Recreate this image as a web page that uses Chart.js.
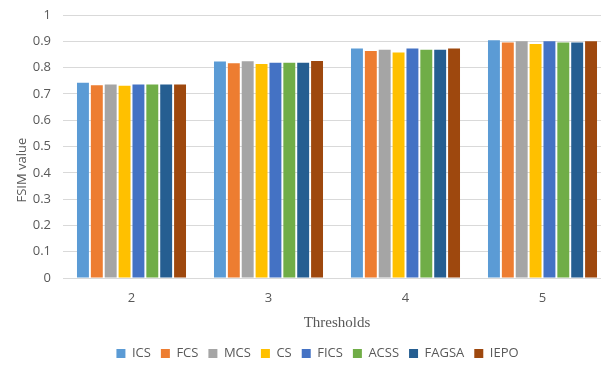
<!DOCTYPE html>
<html><head><meta charset="utf-8">
<script src="https://cdn.jsdelivr.net/npm/chart.js@4.4.1/dist/chart.umd.min.js"></script>
<style>
html,body{margin:0;padding:0;background:#fff;overflow:hidden;width:601px;height:368px;}
#wrap{width:634px;height:390px;}
</style></head>
<body><div id="wrap"><canvas id="c" width="634" height="390"></canvas></div>
<script>
const categories = ["2", "3", "4", "5"];
const seriesNames = ["ICS", "FCS", "MCS", "CS", "FICS", "ACSS", "FAGSA", "IEPO"];
const ICS   = [0.742, 0.823, 0.873, 0.904];
const FCS   = [0.733, 0.817, 0.863, 0.895];
const MCS   = [0.736, 0.824, 0.868, 0.900];
const CS    = [0.731, 0.814, 0.857, 0.890];
const FICS  = [0.736, 0.818, 0.873, 0.900];
const ACSS  = [0.736, 0.818, 0.868, 0.895];
const FAGSA = [0.736, 0.818, 0.868, 0.895];
const IEPO  = [0.736, 0.825, 0.873, 0.900];
const yTicks = [0, 0.1, 0.2, 0.3, 0.4, 0.5, 0.6, 0.7, 0.8, 0.9, 1];
const colors = ["#5B9BD5", "#ED7D31", "#A5A5A5", "#FFC000", "#4472C4", "#70AD47", "#255E91", "#9E480E"];
const values = [ICS, FCS, MCS, CS, FICS, ACSS, FAGSA, IEPO];

const shiftLegend = {
  id: 'shiftLegend',
  afterLayout(chart) {
    const l = chart.legend;
    if (l) {
      l.left += 12; l.right += 12;
      const h = l.bottom - l.top;
      l.top = 337; l.bottom = 337 + h;
    }
  }
};

new Chart(document.getElementById('c'), {
  type: 'bar',
  data: {
    labels: categories,
    datasets: seriesNames.map((n, i) => ({
      label: n, data: values[i], backgroundColor: colors[i], borderWidth: 0,
      categoryPercentage: 0.81, barPercentage: 0.86
    }))
  },
  options: {
    responsive: false, animation: false,
    layout: { padding: { left: 0, top: 15, right: 23, bottom: 25 } },
    plugins: {
      legend: {
        position: 'bottom',
        labels: { boxWidth: 9, boxHeight: 9, padding: 10, color: '#595959',
          font: { family: 'Open Sans', size: 13 } }
      },
      tooltip: { enabled: false }
    },
    scales: {
      x: {
        afterFit: s => { s.height = 54; },
        grid: { display: false, drawTicks: false },
        border: { display: true, color: '#d9d9d9', width: 1 },
        ticks: { color: '#595959', font: { family: 'Open Sans', size: 13 }, padding: 12 },
        title: { display: true, text: 'Thresholds', color: '#595959',
          font: { family: 'Liberation Serif', size: 15 }, padding: { top: 5, bottom: 0 } }
      },
      y: {
        min: 0, max: 1,
        afterBuildTicks: s => { s.ticks = yTicks.map(v => ({ value: v })); },
        afterFit: s => { s.width = 63; },
        grid: { color: '#d9d9d9', drawTicks: true, tickLength: 8, tickColor: 'rgba(0,0,0,0)' },
        border: { display: false },
        ticks: { color: '#595959', font: { family: 'Open Sans', size: 13 }, padding: 4,
          callback: v => String(Math.round(v * 10) / 10) },
        title: { display: true, text: 'FSIM value' + '\u00a0'.repeat(14), color: '#595959',
          font: { family: 'Open Sans', size: 13 }, padding: { top: 14, bottom: 0 } }
      }
    }
  },
  plugins: [shiftLegend]
});
</script></body></html>
